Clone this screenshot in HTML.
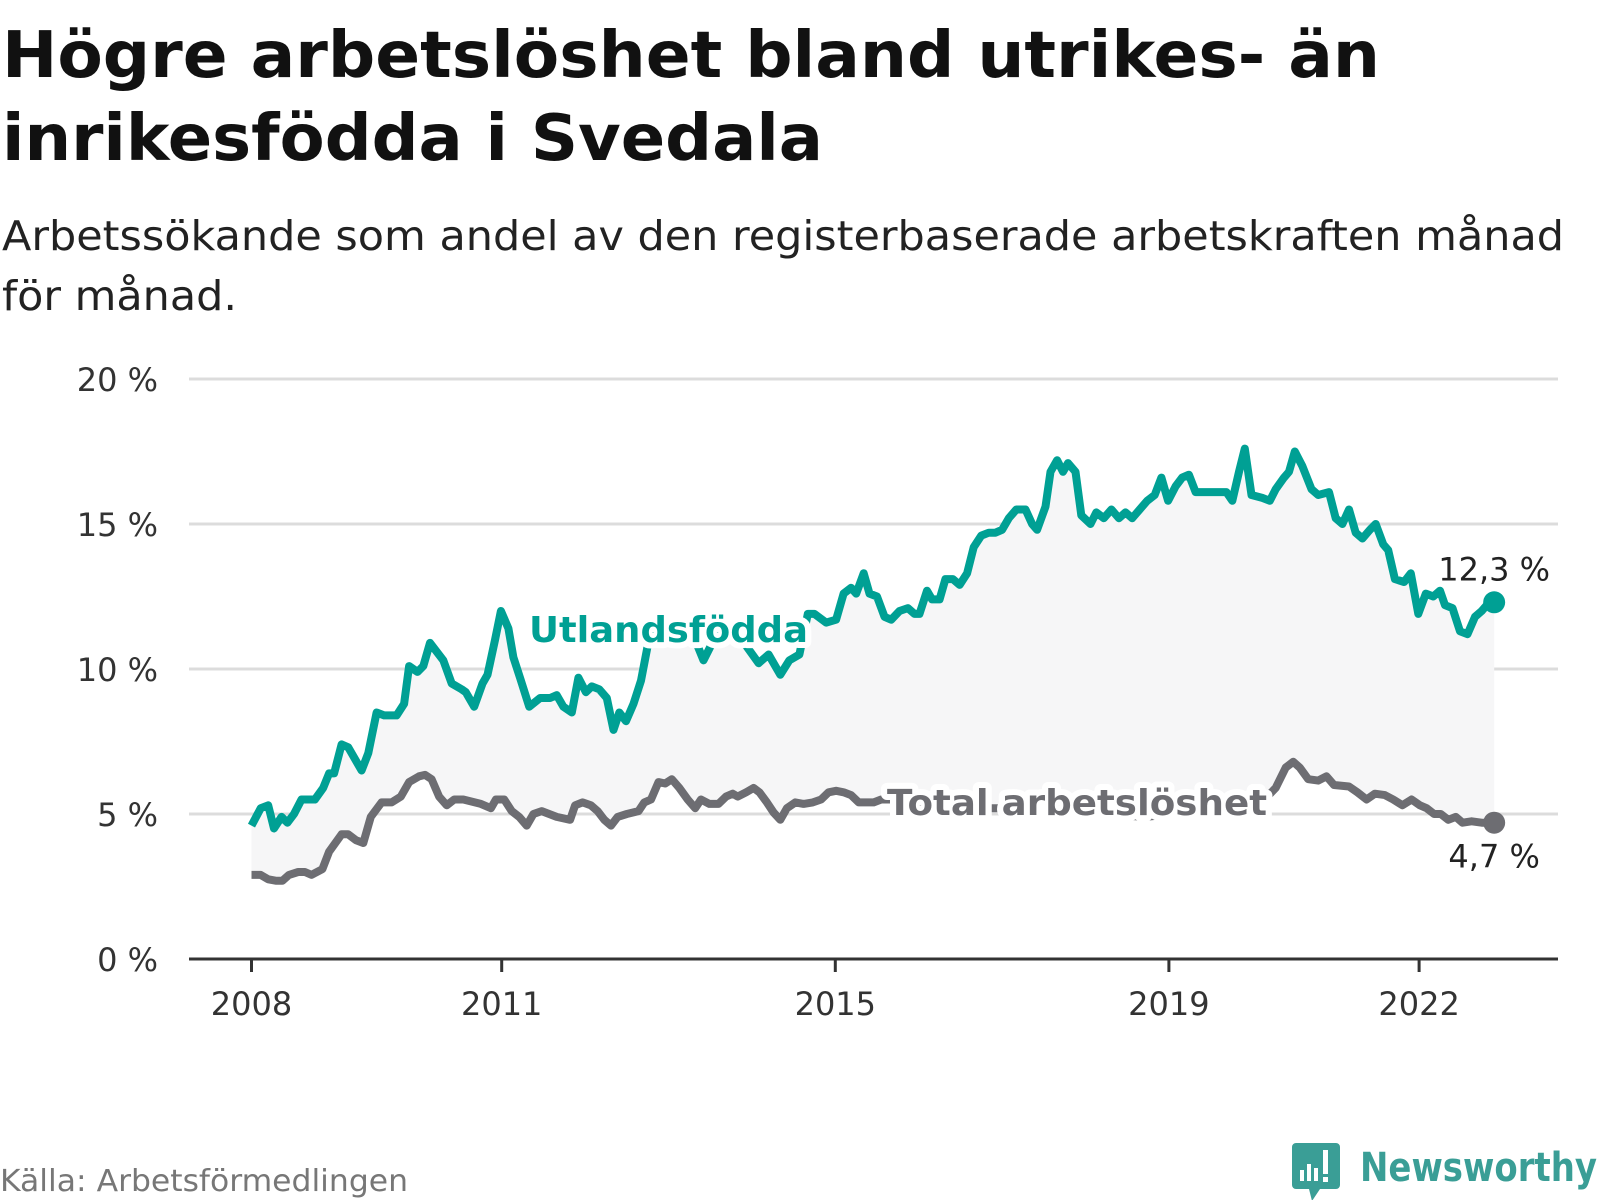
<!DOCTYPE html>
<html><head><meta charset="utf-8">
<style>
html,body{margin:0;padding:0;background:#fff;}
body{width:1600px;height:1200px;overflow:hidden;font-family:"DejaVu Sans","Liberation Sans",sans-serif;}
svg text{font-family:"DejaVu Sans","Liberation Sans",sans-serif;}
</style></head>
<body>
<svg id="chart" width="1600" height="1200" viewBox="0 0 1600 1200">
<text x="2" y="77" font-size="64" font-weight="bold" fill="#111" textLength="1378" lengthAdjust="spacingAndGlyphs">Högre arbetslöshet bland utrikes- än</text>
<text x="2" y="160" font-size="64" font-weight="bold" fill="#111" textLength="821" lengthAdjust="spacingAndGlyphs">inrikesfödda i Svedala</text>
<text x="2" y="250" font-size="41" fill="#222" textLength="1562" lengthAdjust="spacingAndGlyphs">Arbetssökande som andel av den registerbaserade arbetskraften månad</text>
<text x="2" y="310" font-size="41" fill="#222" textLength="235" lengthAdjust="spacingAndGlyphs">för månad.</text>
<g id="grid"></g>
<g id="yticks"></g>
<g id="xaxis"></g>
<path id="band" fill="#f6f6f7"></path>
<path id="lineTotal" fill="none" stroke="#6d6d72" stroke-width="8" stroke-linejoin="round"></path>
<path id="lineUtl" fill="none" stroke="#00a094" stroke-width="8" stroke-linejoin="round"></path>
<text x="529" y="642" font-size="36" font-weight="bold" fill="#00a094" stroke="#fff" stroke-width="12" paint-order="stroke" stroke-linejoin="round" textLength="279" lengthAdjust="spacingAndGlyphs">Utlandsfödda</text>
<text x="887" y="815" font-size="36" font-weight="bold" fill="#6d6d72" stroke="#fff" stroke-width="12" paint-order="stroke" stroke-linejoin="round" textLength="380" lengthAdjust="spacingAndGlyphs">Total arbetslöshet</text>
<g id="ends"></g>
<text x="0" y="1191" font-size="30" fill="#777" textLength="408" lengthAdjust="spacingAndGlyphs">Källa: Arbetsförmedlingen</text>
<g>
<path d="M1296 1143 h40 a4 4 0 0 1 4 4 v38 a4 4 0 0 1 -4 4 h-16 l-8 12 l-3 -12 h-13 a4 4 0 0 1 -4 -4 v-38 a4 4 0 0 1 4 -4z" fill="#3a9e96"/>
<rect x="1300" y="1170" width="4" height="11" fill="#fff"/><rect x="1307" y="1164" width="4" height="17" fill="#fff"/><rect x="1314" y="1168" width="4" height="13" fill="#fff"/><rect x="1323" y="1150" width="5" height="24" fill="#fff"/><rect x="1323" y="1177" width="5" height="5" fill="#fff"/>
<text x="1360" y="1181" font-size="40" font-weight="bold" fill="#3a9e96" textLength="237" lengthAdjust="spacingAndGlyphs">Newsworthy</text>
</g>
</svg>
<script>
const yTicks = [0, 5, 10, 15, 20];
const yTickLabels = ["0 %", "5 %", "10 %", "15 %", "20 %"];
const xTicks = [2008, 2011, 2015, 2019, 2022];
const xTickLabels = ["2008", "2011", "2015", "2019", "2022"];
const utlDates = [2008,2008.11,2008.2,2008.27,2008.36,2008.43,2008.51,2008.6,2008.76,2008.86,2008.93,2008.99,2009.08,2009.16,2009.32,2009.4,2009.5,2009.59,2009.74,2009.83,2009.89,2009.99,2010.06,2010.14,2010.22,2010.3,2010.4,2010.52,2010.57,2010.67,2010.77,2010.83,2010.92,2010.99,2011.08,2011.14,2011.22,2011.33,2011.46,2011.58,2011.66,2011.74,2011.84,2011.92,2012.01,2012.08,2012.17,2012.26,2012.34,2012.41,2012.49,2012.58,2012.67,2012.79,2012.95,2013.13,2013.32,2013.42,2013.56,2013.75,2013.93,2014.08,2014.2,2014.34,2014.45,2014.57,2014.67,2014.75,2014.89,2015.01,2015.1,2015.19,2015.25,2015.34,2015.41,2015.5,2015.59,2015.67,2015.77,2015.87,2015.95,2016.01,2016.1,2016.16,2016.25,2016.32,2016.41,2016.49,2016.58,2016.66,2016.75,2016.84,2016.92,2017,2017.08,2017.17,2017.28,2017.36,2017.42,2017.52,2017.58,2017.66,2017.73,2017.79,2017.88,2017.95,2018.06,2018.13,2018.22,2018.31,2018.4,2018.48,2018.56,2018.65,2018.74,2018.83,2018.91,2018.99,2019.08,2019.16,2019.24,2019.32,2019.69,2019.76,2019.84,2019.91,2019.99,2020.12,2020.21,2020.28,2020.38,2020.44,2020.51,2020.6,2020.71,2020.79,2020.92,2021,2021.08,2021.16,2021.24,2021.32,2021.41,2021.48,2021.57,2021.63,2021.71,2021.82,2021.9,2021.99,2022.08,2022.17,2022.25,2022.31,2022.4,2022.49,2022.58,2022.67,2022.75,2022.84,2022.9];
const utlValues = [4.6,5.2,5.3,4.5,4.9,4.7,5.0,5.5,5.5,5.9,6.4,6.4,7.4,7.3,6.5,7.1,8.5,8.4,8.4,8.8,10.1,9.9,10.1,10.9,10.6,10.3,9.5,9.3,9.2,8.7,9.5,9.8,11.0,12.0,11.4,10.4,9.7,8.7,9.0,9.0,9.1,8.7,8.5,9.7,9.2,9.4,9.3,9.0,7.9,8.5,8.2,8.8,9.6,11.4,11.7,11.4,11.0,10.3,11.1,11.5,10.8,10.2,10.5,9.8,10.3,10.5,11.9,11.9,11.6,11.7,12.6,12.8,12.6,13.3,12.6,12.5,11.8,11.7,12.0,12.1,11.9,11.9,12.7,12.4,12.4,13.1,13.1,12.9,13.3,14.2,14.6,14.7,14.7,14.8,15.2,15.5,15.5,15.0,14.8,15.6,16.8,17.2,16.8,17.1,16.8,15.3,15.0,15.4,15.2,15.5,15.2,15.4,15.2,15.5,15.8,16.0,16.6,15.8,16.3,16.6,16.7,16.1,16.1,15.8,16.8,17.6,16.0,15.9,15.8,16.2,16.6,16.8,17.5,17.0,16.2,16.0,16.1,15.2,15.0,15.5,14.7,14.5,14.8,15.0,14.3,14.1,13.1,13.0,13.3,11.9,12.6,12.5,12.7,12.2,12.1,11.3,11.2,11.8,12.0,12.3,12.3];
const totDates = [2008,2008.11,2008.2,2008.29,2008.37,2008.45,2008.56,2008.64,2008.72,2008.85,2008.93,2009.08,2009.16,2009.25,2009.34,2009.43,2009.56,2009.68,2009.79,2009.89,2010.01,2010.08,2010.16,2010.25,2010.34,2010.43,2010.54,2010.75,2010.87,2010.93,2011.03,2011.12,2011.21,2011.3,2011.38,2011.48,2011.66,2011.82,2011.88,2011.97,2012.07,2012.15,2012.23,2012.31,2012.39,2012.5,2012.64,2012.71,2012.79,2012.88,2012.96,2013.04,2013.13,2013.23,2013.32,2013.39,2013.49,2013.6,2013.69,2013.77,2013.83,2013.93,2014.02,2014.09,2014.18,2014.26,2014.34,2014.42,2014.52,2014.62,2014.73,2014.83,2014.92,2015.01,2015.1,2015.19,2015.28,2015.46,2015.55,2015.77,2016.38,2017,2017.61,2018.22,2018.71,2019.08,2019.69,2020.18,2020.28,2020.4,2020.49,2020.57,2020.67,2020.79,2020.89,2020.98,2021.16,2021.26,2021.37,2021.47,2021.59,2021.69,2021.8,2021.91,2022.01,2022.09,2022.18,2022.26,2022.35,2022.44,2022.52,2022.63,2022.75,2022.82,2022.9];
const totValues = [2.9,2.9,2.75,2.7,2.7,2.9,3.0,3.0,2.9,3.1,3.7,4.3,4.3,4.1,4.0,4.9,5.4,5.4,5.6,6.1,6.3,6.35,6.2,5.6,5.3,5.5,5.5,5.35,5.2,5.5,5.5,5.1,4.9,4.6,5.0,5.1,4.9,4.8,5.3,5.4,5.3,5.1,4.8,4.6,4.9,5.0,5.1,5.4,5.5,6.1,6.05,6.2,5.9,5.5,5.2,5.5,5.35,5.35,5.6,5.7,5.6,5.75,5.9,5.75,5.4,5.05,4.8,5.2,5.4,5.35,5.4,5.5,5.75,5.8,5.75,5.65,5.4,5.4,5.5,5.5,5.2,5.2,5.1,5.0,4.9,5.0,5.2,5.6,5.9,6.6,6.8,6.6,6.2,6.15,6.3,6.0,5.95,5.75,5.5,5.7,5.65,5.5,5.3,5.5,5.3,5.2,5.0,5.0,4.8,4.9,4.7,4.75,4.7,4.7,4.7];
const endLabels = ["12,3 %", "4,7 %"];

const X0 = 189, X1 = 1558, Y0 = 959, YPX = 29;
const xScale = d => 251.5 + (d - 2008) * 83.4;
const yScale = v => Y0 - v * YPX;
const NS = "http://www.w3.org/2000/svg";
function mk(tag, attrs, parent){ const e = document.createElementNS(NS, tag); for (const k in attrs) e.setAttribute(k, attrs[k]); parent.appendChild(e); return e; }

const grid = document.getElementById('grid'), yt = document.getElementById('yticks'), xa = document.getElementById('xaxis');
yTicks.forEach((t, i) => {
  if (t > 0) {
    const l = mk('line', {x1: X0, x2: X1, y1: yScale(t), y2: yScale(t), stroke: '#dcdcdc', 'stroke-width': 3}, grid);
    
    
  }
  const tx = mk('text', {x: 158, y: yScale(t) + 12, 'font-size': 32, fill: '#333', 'text-anchor': 'end'}, yt);
  tx.textContent = yTickLabels[i];
  
  
});
const ax = mk('line', {x1: X0, x2: X1, y1: Y0, y2: Y0, stroke: '#333', 'stroke-width': 3}, xa);


xTicks.forEach((t, i) => {
  const tk = mk('line', {x1: xScale(t), x2: xScale(t), y1: Y0, y2: Y0 + 13, stroke: '#333', 'stroke-width': 3}, xa);
  
  
  const tx = mk('text', {x: xScale(t), y: 1015, 'font-size': 32, fill: '#333', 'text-anchor': 'middle'}, xa);
  tx.textContent = xTickLabels[i];
  
  
});

function pathOf(ds, vs){ return ds.map((d, i) => (i ? 'L' : 'M') + xScale(d).toFixed(1) + ' ' + yScale(vs[i]).toFixed(1)).join(' '); }
document.getElementById('lineUtl').setAttribute('d', pathOf(utlDates, utlValues));
document.getElementById('lineTotal').setAttribute('d', pathOf(totDates, totValues));
let band = pathOf(utlDates, utlValues);
for (let i = totDates.length - 1; i >= 0; i--) band += ' L' + xScale(totDates[i]).toFixed(1) + ' ' + yScale(totValues[i]).toFixed(1);
document.getElementById('band').setAttribute('d', band + ' Z');

const ends = document.getElementById('ends');
const lu = utlDates.length - 1, lt = totDates.length - 1;
const d1 = mk('circle', {cx: xScale(utlDates[lu]), cy: yScale(utlValues[lu]), r: 11, fill: '#00a094'}, ends);


const d2 = mk('circle', {cx: xScale(totDates[lt]), cy: yScale(totValues[lt]), r: 11, fill: '#6d6d72'}, ends);


const e1 = mk('text', {x: xScale(utlDates[lu]), y: yScale(utlValues[lu]) - 22, 'font-size': 32, fill: '#222', 'text-anchor': 'middle', stroke: '#fff', 'stroke-width': 6, 'paint-order': 'stroke'}, ends);
e1.textContent = endLabels[0];


const e2 = mk('text', {x: xScale(totDates[lt]), y: yScale(totValues[lt]) + 45, 'font-size': 32, fill: '#222', 'text-anchor': 'middle', stroke: '#fff', 'stroke-width': 6, 'paint-order': 'stroke'}, ends);
e2.textContent = endLabels[1];


</script>
</body></html>
